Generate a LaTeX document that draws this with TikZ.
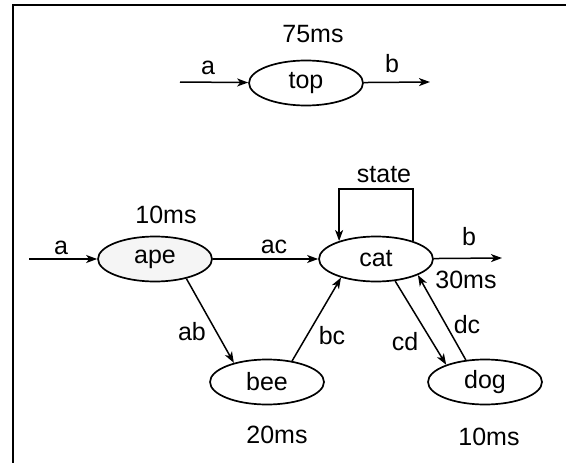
\documentclass[tikz,border=0pt]{standalone}
\usepackage{fontspec}
\setmainfont{Liberation Sans}
\usetikzlibrary{shapes.geometric,arrows.meta}
\begin{document}
\begin{tikzpicture}[x=1pt,y=-1pt,
  every node/.style={font=\fontsize{25}{29}\selectfont},
  proc/.style={ellipse,draw,line width=1.7pt,minimum width=114pt,minimum height=45pt,inner sep=0pt},
  lbl/.style={inner sep=0pt},
  flow/.style={line width=1.5pt,-{Stealth[length=11pt,width=8pt,inset=3pt]}},
  frame/.style={line width=2.6pt}]
  \useasboundingbox (0,0) rectangle (566,463);
  % border along the top and the left side
  \coordinate (fr1) at (566,5);
  \coordinate (fr2) at (13,5);
  \coordinate (fr3) at (13,463);
  \draw[frame] (fr1) -- (fr2) -- (fr3);

  % upper process
  \node[proc] (top) at (306,83) {top};
  \coordinate (topin) at (180,82);
  \coordinate (topout) at (430,82);
  \draw[flow] (topin) -- (top);
  \draw[flow] (top) -- (topout);
  \node[lbl] (ta) at (208,68) {a};
  \node[lbl] (tb) at (392,64) {b};
  \node[lbl] (tt) at (313,34) {75ms};

  % lower network
  \node[proc,fill=black!4] (ape) at (155,259) {ape};
  \node[proc] (cat) at (376,259) {cat};
  \node[proc] (bee) at (267,382) {bee};
  \node[proc] (dog) at (485,382) {dog};

  \coordinate (apein) at (29,259);
  \coordinate (catout) at (502,258);
  \coordinate (loop) at (376,189);

  \draw[flow] (apein) -- (ape);
  \draw[flow] (ape) -- (cat);
  \draw[flow] (cat) -- (catout);
  \draw[flow] (cat.26) |- (loop) -| (cat.154);
  \draw[flow] (ape.-32) -- (bee.150);
  \draw[flow] (bee.40) -- (cat.208);
  \draw[flow] (cat.-49) -- (dog.156);
  \draw[flow] (dog.131) -- (cat.-21);

  \node[lbl] (la) at (61,248) {a};
  \node[lbl] (lac) at (274,247) {ac};
  \node[lbl] (lb) at (469,237) {b};
  \node[lbl] (lstate) at (384,175) {state};
  \node[lbl] (lab) at (192,332) {ab};
  \node[lbl] (lbc) at (332,336) {bc};
  \node[lbl] (lcd) at (405,342) {cd};
  \node[lbl] (ldc) at (467,325) {dc};
  \node[lbl] (tape) at (166,215) {10ms};
  \node[lbl] (tcat) at (466,280) {30ms};
  \node[lbl] (tbee) at (277,435) {20ms};
  \node[lbl] (tdog) at (489,437) {10ms};
\end{tikzpicture}
\end{document}
